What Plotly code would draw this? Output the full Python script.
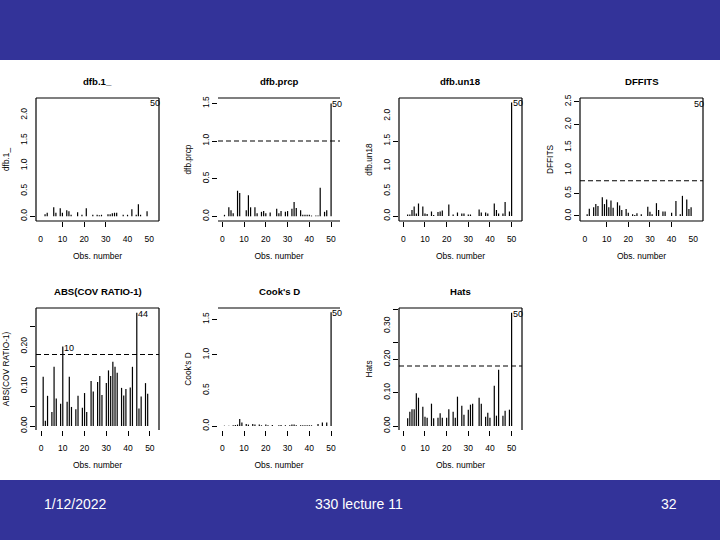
#influence diagnostics slide: seven spike plots against observation number
import plotly.graph_objects as go

obs = list(range(1, 51))

dfb_1 = [0, .04, .07, 0, 0, .18, .07, 0, .16, .07, 0, .12, .1, .03, 0, 0, .08, 0, .03, 0,
         .16, 0, 0, .03, 0, .03, .02, .03, 0, 0, .04, .04, .06, .07, .07, 0, 0, .03, 0, .03,
         0, .14, 0, .03, .24, .03, 0, 0, .1, 0]
dfb_prcp = [.02, 0, .12, .08, .04, 0, .34, .31, 0, 0, .08, .28, .12, 0, .12, .04, 0, .06, .07, .04,
            0, .05, 0, 0, .1, .04, .07, 0, .06, .07, 0, .1, .19, .11, 0, .08, .02, .02, .02, .02,
            .01, 0, .01, .01, .38, 0, .06, .08, 0, 1.5]
dfb_un18 = [0, .03, .03, .12, .19, .05, .25, 0, .19, .05, .04, 0, .09, .02, 0, .08, .09, .11, 0, 0,
            .23, 0, .03, 0, .07, 0, .05, .05, 0, .03, .03, 0, 0, 0, .13, .07, 0, .07, .05, 0,
            0, .25, .12, .05, 0, .05, .28, 0, .09, 2.27]
dffits = [.04, .16, 0, .19, .26, .22, 0, .41, .26, .36, .19, .34, .18, 0, .3, .23, .13, 0, .15, .07,
          0, .04, .02, .06, 0, .04, 0, 0, .2, .09, .04, 0, .28, .13, 0, .1, .1, 0, 0, .07,
          0, .33, 0, .04, .44, 0, .36, .15, .19, 0]
cov_ratio = [.124, .013, .076, 0, .035, .149, .069, 0, .056, .2, 0, .061, .124, .048, 0, .042, .076, 0, .046, .083,
             .035, 0, .113, .087, 0, .111, .126, .078, 0, .108, .14, .126, .162, .149, .134, 0, .096, .077, .093, 0,
             .097, .149, 0, .285, .044, .074, 0, .108, .081, 0]
cooks_d = [.005, 0, .005, 0, .01, .015, .02, .1, .05, 0, .03, .02, 0, .03, .02, 0, .02, .01, 0, .02,
           .01, 0, .015, 0, 0, .01, .015, 0, .01, 0, .01, .02, .02, .01, 0, .01, .01, .01, .01, .01,
           .01, 0, 0, .03, 0, .05, 0, .05, 0, 1.6]
hats = [0, .023, .043, .05, .05, .098, .085, 0, .058, .028, .025, 0, .067, .023, 0, .025, .038, .025, 0, .025,
        .05, 0, .043, .025, .088, 0, .061, .034, 0, .049, .064, .067, 0, 0, .085, .067, 0, .028, .04, .025,
        0, .121, .031, .169, 0, .031, .046, 0, .049, .34]

titles = ["dfb.1_", "dfb.prcp", "dfb.un18", "DFFITS", "ABS(COV RATIO-1)", "Cook's D", "Hats"]
series = [dfb_1, dfb_prcp, dfb_un18, dffits, cov_ratio, cooks_d, hats]
cutoffs = [None, 1.0, None, .77, .18, None, .18]

# the outlying points R labelled, as (obs, value)
flagged = [[(50, 2.25)], [(50, 1.5)], [(50, 2.27)], [(50, 2.47)],
           [(10, .2), (44, .285)], [(50, 1.6)], [(50, .34)]]

x_ticks = [0, 10, 20, 30, 40, 50]
y_ticks = [[0, .5, 1, 1.5, 2], [0, .5, 1, 1.5], [0, .5, 1, 1.5, 2], [0, .5, 1, 1.5, 2, 2.5],
           [0, .1, .2], [0, .5, 1, 1.5], [0, .1, .2, .3]]
y_ticktext = [["0.0", "0.5", "1.0", "1.5", "2.0"], ["0.0", "0.5", "1.0", "1.5"],
              ["0.0", "0.5", "1.0", "1.5", "2.0"], ["0.0", "0.5", "1.0", "1.5", "2.0", "2.5"],
              ["0.00", "0.10", "0.20"], ["0.0", "0.5", "1.0", "1.5"], ["0.00", "0.10", "0.20", "0.30"]]

# which tick marks survived the scan of the slide
x_marks = [[10, 20, 30], x_ticks, x_ticks, [10, 20, 30, 40], x_ticks, x_ticks, x_ticks]
y_marks = [[0], [0, .5, 1, 1.5], [0, 1.5], [0, .5, 2, 2.5], [0, .05, .15, .25], [0, 1, 1.5],
           [0, .1, .2, .25, .35]]

x_ranges = [[-2.17, 54.5], [-1.98, 54.1], [-2, 54.8], [-2.3, 54.5], [-2.3, 54.2], [-1.98, 54.1], [-2, 54.8]]
y_ranges = [[-.093, 2.338], [-.062, 1.572], [-.1, 2.36], [-.11, 2.58], [-.01, .297], [-.056, 1.66], [-.012, .354]]

# panel boxes in page pixels: left, right, top, bottom
boxes = [(36, 159, 98, 221), (218, 340, 98, 221), (399, 522, 98, 221), (580, 703, 98, 221),
         (36, 159, 308, 430), (218, 340, 308, 430), (399, 522, 308, 430)]
# sides of each box that are drawn
sides = ["lrtb", "tb", "lrtb", "lrtb", "lrt", "t", "lrt"]

W, H = 720, 540
BLUE = "#333399"
FONT = "Liberation Sans"


def px(x):
    return x / W


def py(y):
    return 1 - y / H


fig = go.Figure()
layout = {}

for i, title in enumerate(titles):
    n = "" if i == 0 else str(i + 1)
    left, right, top, bottom = boxes[i]
    xref, yref = "x" + n, "y" + n

    # spikes, R's type="h"
    spike_x, spike_y = [], []
    for o, v in zip(obs, series[i]):
        if v > 0:
            spike_x += [o, o, None]
            spike_y += [0, v, None]
    fig.add_trace(go.Scatter(x=spike_x, y=spike_y, mode="lines", line=dict(color="black", width=1.2),
                             xaxis=xref, yaxis=yref, showlegend=False))

    layout["xaxis" + n] = dict(
        domain=[px(left), px(right)], range=x_ranges[i], anchor=yref, showgrid=False, zeroline=False,
        tickmode="array", tickvals=x_ticks, ticks="", ticklabelstandoff=11,
        tickfont=dict(size=8.5, color="black", family=FONT),
        minor=dict(tickmode="array", tickvals=x_marks[i], ticks="outside", ticklen=5, tickwidth=1, tickcolor="black"),
        title=dict(text="Obs. number", standoff=10, font=dict(size=8.5, color="black", family=FONT)))
    layout["yaxis" + n] = dict(
        domain=[py(bottom), py(top)], range=y_ranges[i], anchor=xref, showgrid=False, zeroline=False,
        tickmode="array", tickvals=y_ticks[i], ticktext=y_ticktext[i], ticks="", tickangle=-90, ticklabelstandoff=6,
        tickfont=dict(size=8.5, color="black", family=FONT),
        minor=dict(tickmode="array", tickvals=y_marks[i], ticks="outside", ticklen=5, tickwidth=1, tickcolor="black"),
        title=dict(text=title, standoff=8, font=dict(size=8.3, color="black", family=FONT)))

    # panel frame
    xd, yd = xref + " domain", yref + " domain"
    segments = {"l": (0, 0, 0, 1), "r": (1, 0, 1, 1), "t": (0, 1, 1, 1), "b": (0, 0, 1, 0)}
    for s in sides[i]:
        x0, y0, x1, y1 = segments[s]
        fig.add_shape(type="line", xref=xd, yref=yd, x0=x0, y0=y0, x1=x1, y1=y1,
                      line=dict(color="black", width=1.2))

    if cutoffs[i] is not None:
        fig.add_shape(type="line", xref=xd, yref=yref, x0=0, x1=1, y0=cutoffs[i], y1=cutoffs[i],
                      line=dict(color="black", width=1.1, dash="5px,3px"))

    for o, v in flagged[i]:
        fig.add_annotation(x=o, y=v, xref=xref, yref=yref, text=str(o), showarrow=False, xanchor="left",
                           xshift=-1, yshift=-1, font=dict(size=9, color="black", family=FONT))

    fig.add_annotation(x=px((left + right) / 2), y=py(top - 17), xref="paper", yref="paper", text="<b>" + title + "</b>",
                       showarrow=False, xanchor="center", yanchor="middle",
                       font=dict(size=9.6, color="black", family=FONT))

# slide bands and footer
fig.add_shape(type="rect", xref="paper", yref="paper", x0=0, x1=1, y0=py(60), y1=1, fillcolor=BLUE, line_width=0)
fig.add_shape(type="rect", xref="paper", yref="paper", x0=0, x1=1, y0=0, y1=py(480), fillcolor=BLUE, line_width=0)

footer_text = ["1/12/2022", "330 lecture 11", "32"]
footer_x = [75, 359, 668.5]
for t, x in zip(footer_text, footer_x):
    fig.add_annotation(x=px(x), y=py(504), xref="paper", yref="paper", text=t, showarrow=False,
                       xanchor="center", yanchor="middle", font=dict(size=14, color="white", family=FONT))

fig.update_layout(width=W, height=H, margin=dict(l=0, r=0, t=0, b=0, autoexpand=False), paper_bgcolor="white",
                  plot_bgcolor="white", **layout)

# the page body has a default margin, the slide fills the window
fig.write_html("out.html", config=dict(displayModeBar=False),
               post_script="document.body.style.margin='0';document.body.style.overflow='hidden';")
